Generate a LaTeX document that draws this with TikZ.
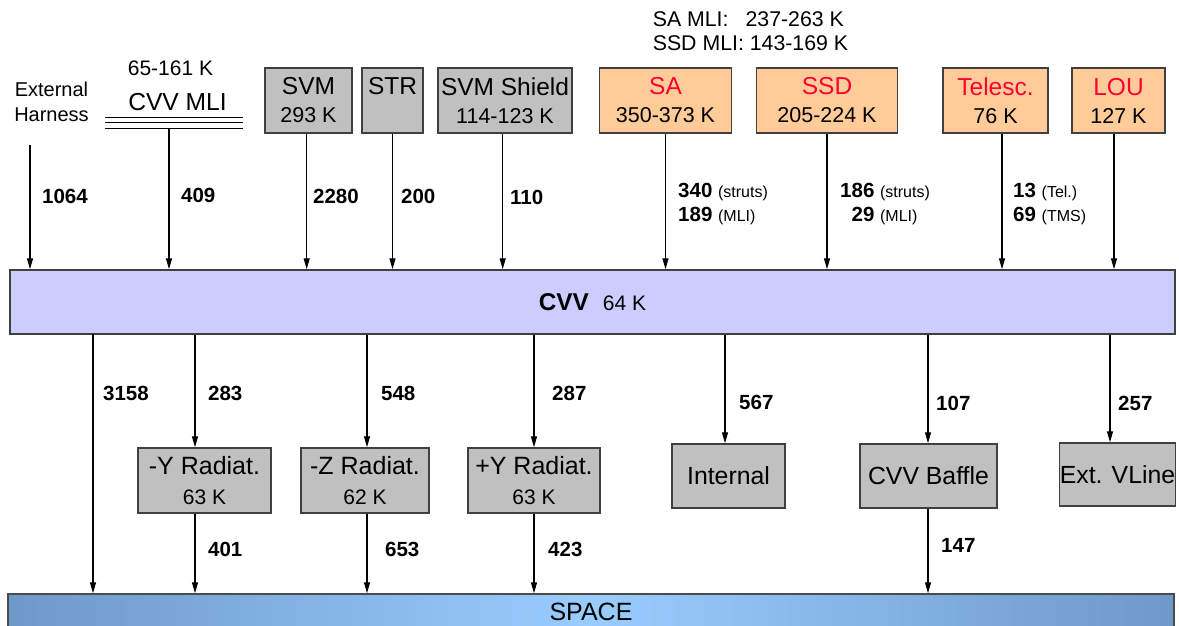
\documentclass[tikz,border=0pt]{standalone}
\usepackage{fontspec}
\setmainfont{Liberation Sans}
\usetikzlibrary{arrows.meta}
\definecolor{boxgray}{HTML}{C0C0C0}
\definecolor{boxorange}{HTML}{FFCC99}
\definecolor{cvvfill}{HTML}{CCCCFF}
\definecolor{redtxt}{HTML}{FF0033}
\definecolor{spaceedge}{HTML}{6E98C8}
\definecolor{spacemid}{HTML}{99CCFF}
\newcommand{\lblsm}[1]{{\normalfont\fontsize{16}{24}\selectfont #1}}
\newcommand{\hdr}[1]{{\fontsize{24.5}{28}\selectfont #1}}
\begin{document}
\begin{tikzpicture}[x=1pt,y=-1pt,
  box/.style={draw=black!75, line width=1.5pt, inner sep=0pt, align=center,
    font=\fontsize{21.5}{28}\selectfont},
  gbox/.style={box, fill=boxgray},
  obox/.style={box, fill=boxorange},
  arr/.style={line width=1.3pt, -{Triangle[width=6pt,length=11pt]}},
  lbl/.style={anchor=west, inner sep=0pt, align=left,
    font=\bfseries\fontsize{20.5}{24}\selectfont},
  plain/.style={inner sep=0pt, align=center}
]
\useasboundingbox (0,0) rectangle (1179,625);

% --- top texts
\node[plain, font=\fontsize{20}{25}\selectfont] (ehtxt) at (51.5,102) {External\\Harness};
\node[plain, font=\fontsize{21}{24}\selectfont] (mlit) at (170.5,68) {65-161 K};
\node[plain, font=\fontsize{24.6}{28}\selectfont] (mlin) at (177.5,102) {CVV MLI};
\draw[line width=1.5pt] (105,117.7) -- (243,117.7);
\draw[line width=1.5pt] (105,122.7) -- (243,122.7);
\draw[line width=1.5pt] (105,128.3) -- (243,128.3);
\coordinate (ehs) at (30,145);
\coordinate (mlis) at (169,129);

\node[plain, font=\fontsize{21.3}{24.5}\selectfont, align=left] (satxt) at (750.5,31)
  {SA MLI:\hspace{17pt}237-263 K\\SSD MLI: 143-169 K};

% --- top boxes
\node[gbox, minimum width=87, minimum height=65] (svm) at (308.5,100.5)
  {\hdr{SVM}\\293 K};
\node[gbox, minimum width=61, minimum height=65] (str) at (392.5,100.5)
  {\hdr{STR}\\\phantom{0}};
\node[gbox, minimum width=134, minimum height=65] (shield) at (505,100.5)
  {\hdr{SVM Shield}\\114-123 K};
\node[obox, minimum width=132, minimum height=65] (sa) at (665.5,100.5)
  {\hdr{\color{redtxt}SA}\\350-373 K};
\node[obox, minimum width=141, minimum height=65] (ssd) at (827,100.5)
  {\hdr{\color{redtxt}SSD}\\205-224 K};
\node[obox, minimum width=105, minimum height=65] (tel) at (995.5,100.5)
  {\hdr{\color{redtxt}Telesc.}\\76 K};
\node[obox, minimum width=93, minimum height=65] (lou) at (1118.5,100.5)
  {\hdr{\color{redtxt}LOU}\\127 K};

% --- CVV bar
\node[draw=black!75, line width=1.5pt, fill=cvvfill, minimum width=1165, minimum height=64, inner sep=0pt]
  (cvv) at (592.5,302)
  {{\bfseries\fontsize{24.3}{28}\selectfont CVV}\hspace{14pt}{\fontsize{21}{24}\selectfont 64 K}};

% --- down arrows into CVV
\draw[arr] (ehs) -- (ehs |- cvv.north);
\draw[arr] (mlis) -- (mlis |- cvv.north);
\draw[arr] ([xshift=-1.8]svm.south) -- ([xshift=-1.8]svm.south |- cvv.north);
\draw[arr] (str.south) -- (str.south |- cvv.north);
\draw[arr] ([xshift=-2.3]shield.south) -- ([xshift=-2.3]shield.south |- cvv.north);
\draw[arr] (sa.south) -- (sa.south |- cvv.north);
\draw[arr] (ssd.south) -- (ssd.south |- cvv.north);
\draw[arr] ([xshift=6.5]tel.south) -- ([xshift=6.5]tel.south |- cvv.north);
\draw[arr] ([xshift=-4.5]lou.south) -- ([xshift=-4.5]lou.south |- cvv.north);

% labels upper
\node[lbl] (l1064) at (42,196) {1064};
\node[lbl] (l409) at (181,195) {409};
\node[lbl] (l2280) at (313,196) {2280};
\node[lbl] (l200) at (401,196) {200};
\node[lbl] (l110) at (510,197) {110};
\node[lbl] (lsa) at (678,204) {340 \lblsm{(struts)}\\189 \lblsm{(MLI)}};
\node[lbl] (lssd) at (840,204) {186 \lblsm{(struts)}\\\hphantom{1}29 \lblsm{(MLI)}};
\node[lbl] (ltel) at (1013,204) {13 \lblsm{(Tel.)}\\69 \lblsm{(TMS)}};

% --- SPACE bar
\node[draw=black!70, line width=1.5pt, left color=spaceedge, right color=spaceedge, middle color=spacemid,
  minimum width=1166, minimum height=36, inner sep=0pt, font=\fontsize{25}{28}\selectfont]
  (space) at (591,612) {SPACE};

% --- lower boxes
\node[gbox, minimum width=133, minimum height=65, font=\fontsize{21}{30}\selectfont] (ry) at (204.5,480.5)
  {{\fontsize{25}{30}\selectfont -Y Radiat.}\\63 K};
\node[gbox, minimum width=128, minimum height=65, font=\fontsize{21}{30}\selectfont] (rz) at (365,480.5)
  {{\fontsize{25}{30}\selectfont -Z Radiat.}\\62 K};
\node[gbox, minimum width=132, minimum height=65, font=\fontsize{21}{30}\selectfont] (rpy) at (534,480.5)
  {{\fontsize{25}{30}\selectfont +Y Radiat.}\\63 K};
\node[gbox, minimum width=113, minimum height=64, font=\fontsize{24.8}{28}\selectfont] (int) at (728.5,476) {Internal};
\node[gbox, minimum width=137, minimum height=64, font=\fontsize{24.8}{28}\selectfont] (baf) at (928.5,476) {CVV Baffle};
\node[gbox, minimum width=116, minimum height=63, font=\fontsize{24.8}{28}\selectfont] (vl) at (1117.5,474.5) {Ext. VLine};

% --- arrows out of CVV
\coordinate (c3158) at (93,334);
\draw[arr] (c3158) -- (c3158 |- space.north);
\draw[arr] ([xshift=-9.5]ry.north |- cvv.south) -- ([xshift=-9.5]ry.north);
\draw[arr] ([xshift=2]rz.north |- cvv.south) -- ([xshift=2]rz.north);
\draw[arr] (rpy.north |- cvv.south) -- (rpy.north);
\draw[arr] ([xshift=-3.5]int.north |- cvv.south) -- ([xshift=-3.5]int.north);
\draw[arr] ([xshift=-0.5]baf.north |- cvv.south) -- ([xshift=-0.5]baf.north);
\draw[arr] ([xshift=-7.5]vl.north |- cvv.south) -- ([xshift=-7.5]vl.north);
\draw[arr] ([xshift=-9.5]ry.south) -- ([xshift=-9.5]ry.south |- space.north);
\draw[arr] ([xshift=2]rz.south) -- ([xshift=2]rz.south |- space.north);
\draw[arr] (rpy.south) -- (rpy.south |- space.north);
\draw[arr] ([xshift=-0.5]baf.south) -- ([xshift=-0.5]baf.south |- space.north);

% labels lower
\node[lbl] (l3158) at (103,393) {3158};
\node[lbl] (l283) at (208,393) {283};
\node[lbl] (l548) at (381,393) {548};
\node[lbl] (l287) at (552,393) {287};
\node[lbl] (l567) at (739,402) {567};
\node[lbl] (l107) at (936,403) {107};
\node[lbl] (l257) at (1118,403) {257};
\node[lbl] (l401) at (208,549) {401};
\node[lbl] (l653) at (385,549) {653};
\node[lbl] (l423) at (548,549) {423};
\node[lbl] (l147) at (941,545) {147};
\end{tikzpicture}
\end{document}
